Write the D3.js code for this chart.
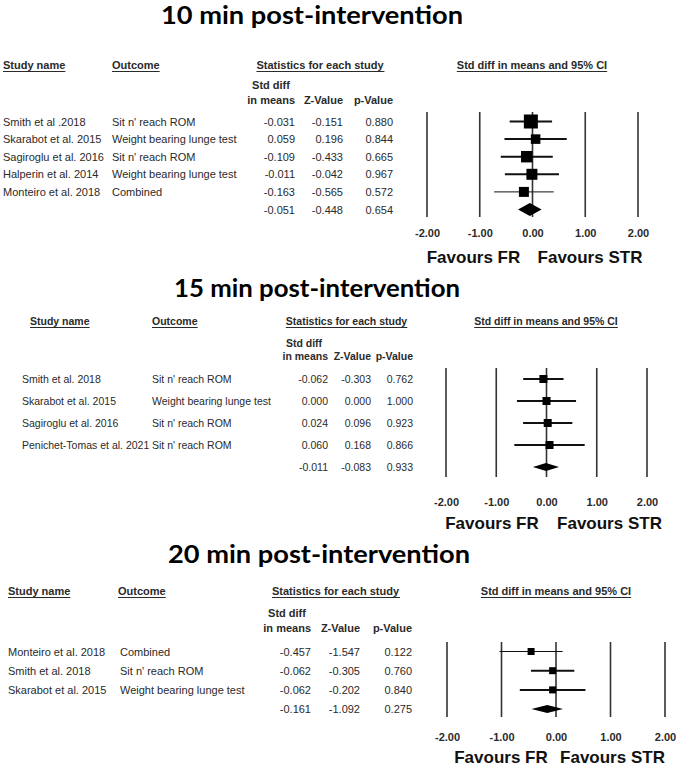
<!DOCTYPE html>
<html><head><meta charset="utf-8">
<script src="https://cdn.jsdelivr.net/npm/d3@7"></script>
<style>body{margin:0;background:#fff}</style>
</head><body><svg id="c" width="676" height="768"></svg>
<script>
// ---------- data ----------
const titles = ["10 min post-intervention", "15 min post-intervention", "20 min post-intervention"];
const axisTicks = [-2, -1, 0, 1, 2];
const favourLabels = ["Favours FR", "Favours STR"];
const headerLabels = ["Study name", "Outcome", "Statistics for each study", "Std diff in means and 95% CI"];
const subHeaderLabels = ["Std diff", "in means", "Z-Value", "p-Value"];

// 10 min
const studies10 = ["Smith et al .2018", "Skarabot et al. 2015", "Sagiroglu et al. 2016", "Halperin et al. 2014", "Monteiro et al. 2018"];
const outcomes10 = ["Sit n' reach ROM", "Weight bearing lunge test", "Sit n' reach ROM", "Weight bearing lunge test", "Combined"];
const effects10 = [-0.031, 0.059, -0.109, -0.011, -0.163];
const zValues10 = [-0.151, 0.196, -0.433, -0.042, -0.565];
const pValues10 = [0.880, 0.844, 0.665, 0.967, 0.572];
const lower10 = [-0.433, -0.531, -0.602, -0.524, -0.728];
const upper10 = [0.371, 0.649, 0.384, 0.502, 0.402];
const weights10 = [30.7, 14.3, 20.5, 18.9, 15.6];
const summary10 = {effect: -0.051, z: -0.448, p: 0.654, lower: -0.274, upper: 0.172};

// 15 min
const studies15 = ["Smith et al. 2018", "Skarabot et al. 2015", "Sagiroglu et al. 2016", "Penichet-Tomas et al. 2021"];
const outcomes15 = ["Sit n' reach ROM", "Weight bearing lunge test", "Sit n' reach ROM", "Sit n' reach ROM"];
const effects15 = [-0.062, 0.000, 0.024, 0.060];
const zValues15 = [-0.303, 0.000, 0.096, 0.168];
const pValues15 = [0.762, 1.000, 0.923, 0.866];
const lower15 = [-0.463, -0.588, -0.466, -0.640];
const upper15 = [0.339, 0.588, 0.514, 0.760];
const weights15 = [40.6, 18.8, 27.2, 13.3];
const summary15 = {effect: -0.011, z: -0.083, p: 0.933, lower: -0.271, upper: 0.249};

// 20 min
const studies20 = ["Monteiro et al. 2018", "Smith et al. 2018", "Skarabot et al. 2015"];
const outcomes20 = ["Combined", "Sit n' reach ROM", "Weight bearing lunge test"];
const effects20 = [-0.457, -0.062, -0.062];
const zValues20 = [-1.547, -0.305, -0.202];
const pValues20 = [0.122, 0.760, 0.840];
const lower20 = [-1.036, -0.460, -0.664];
const upper20 = [0.122, 0.336, 0.540];
const weights20 = [24.8, 52.3, 22.9];
const summary20 = {effect: -0.161, z: -1.092, p: 0.275, lower: -0.450, upper: 0.128};

// ---------- layout ----------
const panels = [
  {title: titles[0], studies: studies10, outcomes: outcomes10, eff: effects10, z: zValues10, p: pValues10, lo: lower10, hi: upper10, w: weights10, sum: summary10,
   L: {titleX: 312, titleY: 24, titleW: 302, fs: 11, headY: 69, sub1Y: 89, sub2Y: 104, studyX: 3, studyHX: 3, outX: 112, outHX: 112,
       statsCX: 320, ciHCX: 532, stdR: 295, zR: 343, pR: 393, rowY0: 121.5, rowStep: 17.6, x0: 427, x1: 638, vTop: 112, vBot: 217,
       tickY: 237, favY: 263, favC: [473.5, 590], boxMax: 14, boxMin: 0, diaH: 13}},
  {title: titles[1], studies: studies15, outcomes: outcomes15, eff: effects15, z: zValues15, p: pValues15, lo: lower15, hi: upper15, w: weights15, sum: summary15,
   L: {titleX: 317, titleY: 297, titleW: 286, fs: 10.5, headY: 325, sub1Y: 347, sub2Y: 360, studyX: 22, studyHX: 30, outX: 152, outHX: 152,
       statsCX: 346.5, ciHCX: 546, stdR: 328, zR: 371, pR: 413, rowY0: 379, rowStep: 22, x0: 446, x1: 647, vTop: 368, vBot: 477,
       tickY: 506, favY: 529, favC: [492, 609.5], boxMax: 8, boxMin: 8, diaH: 8}},
  {title: titles[2], studies: studies20, outcomes: outcomes20, eff: effects20, z: zValues20, p: pValues20, lo: lower20, hi: upper20, w: weights20, sum: summary20,
   L: {titleX: 319, titleY: 563, titleW: 302, fs: 11, headY: 595, sub1Y: 617, sub2Y: 632, studyX: 8, studyHX: 8, outX: 120, outHX: 118,
       statsCX: 335.5, ciHCX: 556, stdR: 311, zR: 360, pR: 412, rowY0: 651.5, rowStep: 19.2, x0: 447, x1: 665, vTop: 642, vBot: 717,
       tickY: 741, favY: 763, favC: [501, 612.5], boxMax: 7, boxMin: 7, diaH: 8}}
];

const svg = d3.select("#c");
const BODY = "'Liberation Sans', Arial, sans-serif";
const fmt3 = v => v.toFixed(3);
const TXT = "#2a2a2a";

function underlined(g, x, y, str, anchor, fs) {
  const t = g.append("text").attr("x", x).attr("y", y).attr("text-anchor", anchor || "start")
    .attr("font-family", BODY).attr("font-weight", "bold").attr("font-size", fs).attr("fill", TXT).text(str);
  const bb = t.node().getBBox();
  g.append("line").attr("x1", bb.x).attr("x2", bb.x + bb.width).attr("y1", y + 2.5).attr("y2", y + 2.5)
    .attr("stroke", TXT).attr("stroke-width", 1);
}

panels.forEach(P => {
  const L = P.L;
  const g = svg.append("g");
  // title
  g.append("text").attr("x", L.titleX).attr("y", L.titleY).attr("text-anchor", "middle")
    .attr("font-family", "Lato, 'Open Sans', sans-serif").attr("font-weight", 700).attr("font-size", 24)
    .attr("textLength", L.titleW).attr("lengthAdjust", "spacingAndGlyphs").attr("fill", "#000").text(P.title);

  // headers
  underlined(g, L.studyHX, L.headY, headerLabels[0], "start", L.fs);
  underlined(g, L.outHX, L.headY, headerLabels[1], "start", L.fs);
  underlined(g, L.statsCX, L.headY, headerLabels[2], "middle", L.fs);
  underlined(g, L.ciHCX, L.headY, headerLabels[3], "middle", L.fs);
  const sub = (x, y, s, a) => g.append("text").attr("x", x).attr("y", y).attr("text-anchor", a)
    .attr("font-family", BODY).attr("font-weight", "bold").attr("font-size", L.fs).attr("fill", TXT).text(s);
  sub(L.stdR - 24, L.sub1Y, subHeaderLabels[0], "middle");
  sub(L.stdR, L.sub2Y, subHeaderLabels[1], "end");
  sub(L.zR, L.sub2Y, subHeaderLabels[2], "end");
  sub(L.pR, L.sub2Y, subHeaderLabels[3], "end");

  const n = P.studies.length;
  const y = d3.scaleLinear().domain([0, 1]).range([L.rowY0, L.rowY0 + L.rowStep]);
  const x = d3.scaleLinear().domain([-2, 2]).range([L.x0, L.x1]);

  const cell = (xx, row, s, a) => g.append("text").attr("x", xx).attr("y", y(row) + 4).attr("text-anchor", a)
    .attr("font-family", BODY).attr("font-size", L.fs).attr("fill", TXT).text(s);
  for (let i = 0; i < n; i++) {
    cell(L.studyX, i, P.studies[i], "start");
    cell(L.outX, i, P.outcomes[i], "start");
    cell(L.stdR, i, fmt3(P.eff[i]), "end");
    cell(L.zR, i, fmt3(P.z[i]), "end");
    cell(L.pR, i, fmt3(P.p[i]), "end");
  }
  cell(L.stdR, n, fmt3(P.sum.effect), "end");
  cell(L.zR, n, fmt3(P.sum.z), "end");
  cell(L.pR, n, fmt3(P.sum.p), "end");

  // vertical reference lines
  g.selectAll(".vl").data(axisTicks).enter().append("line")
    .attr("x1", d => x(d)).attr("x2", d => x(d)).attr("y1", L.vTop).attr("y2", L.vBot)
    .attr("stroke", "#333").attr("stroke-width", 1.6);

  // CIs
  const size = d3.scaleSqrt().domain([0, d3.max(P.w)]).range([0, L.boxMax]);
  const rows = d3.range(n).map(i => ({i, e: P.eff[i], lo: P.lo[i], hi: P.hi[i], w: P.w[i], thin: P.outcomes[i] === "Combined"}));
  g.selectAll(".ci").data(rows).enter().append("line")
    .attr("x1", d => x(d.lo)).attr("x2", d => x(d.hi)).attr("y1", d => y(d.i)).attr("y2", d => y(d.i))
    .attr("stroke", "#111").attr("stroke-width", d => d.thin ? 1 : 2);
  g.selectAll(".bx").data(rows).enter().append("rect")
    .attr("x", d => x(d.e) - Math.max(L.boxMin, size(d.w)) / 2)
    .attr("y", d => y(d.i) - Math.max(L.boxMin, size(d.w)) / 2)
    .attr("width", d => Math.max(L.boxMin, size(d.w)))
    .attr("height", d => Math.max(L.boxMin, size(d.w)))
    .attr("fill", "#000");
  // summary diamond
  const yc = y(n), h = L.diaH / 2;
  g.append("path").attr("d", `M${x(P.sum.lower)},${yc} L${x(P.sum.effect)},${yc - h} L${x(P.sum.upper)},${yc} L${x(P.sum.effect)},${yc + h} Z`)
    .attr("fill", "#000");

  // tick labels via axis
  const ax = g.append("g").attr("transform", `translate(0,${L.tickY - 9})`)
    .call(d3.axisBottom(x).tickValues(axisTicks).tickFormat(d => d.toFixed(2)).tickSize(0).tickPadding(0));
  ax.select(".domain").remove();
  ax.selectAll("text").attr("font-family", BODY).attr("font-weight", "bold").attr("font-size", 11).attr("fill", TXT).attr("dy", 0).attr("y", 9);

  // favours labels
  favourLabels.forEach((s, k) => g.append("text").attr("x", L.favC[k]).attr("y", L.favY).attr("text-anchor", "middle")
    .attr("font-family", BODY).attr("font-weight", "bold").attr("font-size", 17).attr("fill", "#111").text(s));
});
</script>
</body></html>
